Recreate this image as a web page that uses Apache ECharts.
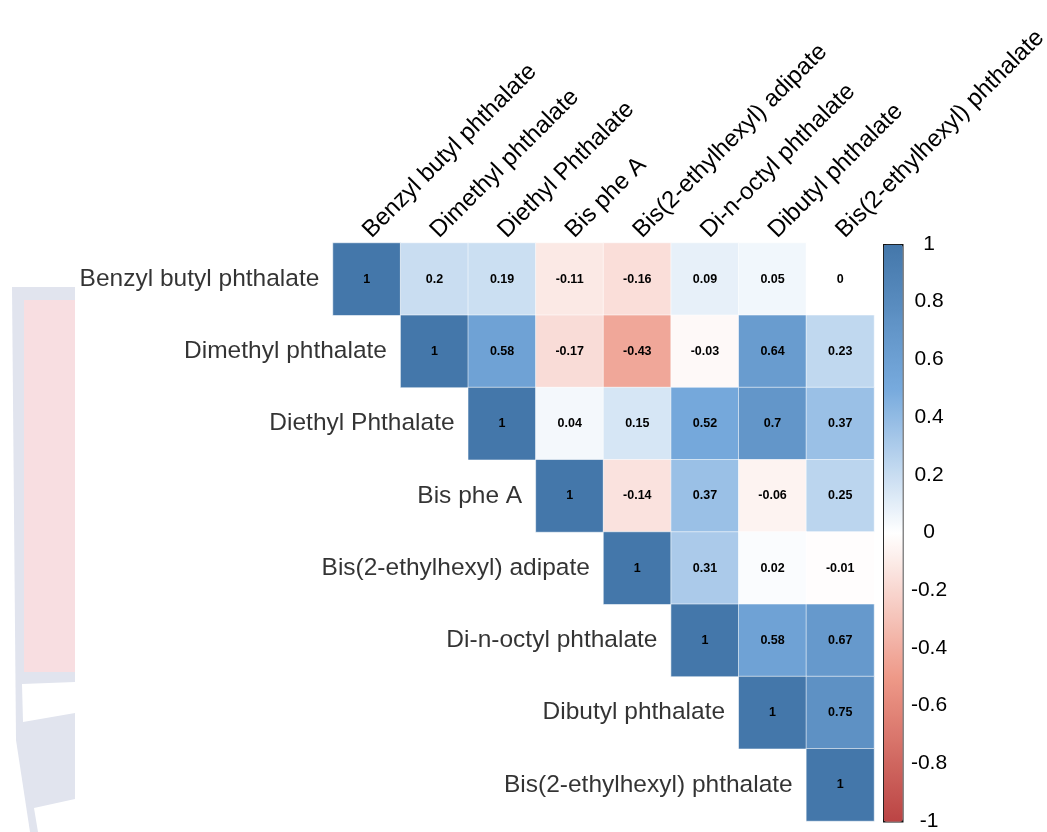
<!DOCTYPE html>
<html>
<head>
<meta charset="utf-8">
<title>Phthalate correlation matrix</title>
<script src="https://cdn.jsdelivr.net/npm/echarts@6/dist/echarts.min.js"></script>
<style>
  html, body { margin: 0; padding: 0; background: #ffffff; }
  #chart { width: 1047px; height: 832px; }
</style>
</head>
<body>
<div id="chart"></div>
<script>
// Compounds, in matrix order (rows top to bottom, columns left to right)
const compounds = [
  'Benzyl butyl phthalate',
  'Dimethyl phthalate',
  'Diethyl Phthalate',
  'Bis phe A',
  'Bis(2-ethylhexyl) adipate',
  'Di-n-octyl phthalate',
  'Dibutyl phthalate',
  'Bis(2-ethylhexyl) phthalate'
];

// Upper triangle of the correlation matrix, one array per row, starting at the diagonal
const rowBenzylButyl   = [1, 0.2, 0.19, -0.11, -0.16, 0.09, 0.05, 0];
const rowDimethyl      = [1, 0.58, -0.17, -0.43, -0.03, 0.64, 0.23];
const rowDiethyl       = [1, 0.04, 0.15, 0.52, 0.7, 0.37];
const rowBisPheA       = [1, -0.14, 0.37, -0.06, 0.25];
const rowAdipate       = [1, 0.31, 0.02, -0.01];
const rowDiNOctyl      = [1, 0.58, 0.67];
const rowDibutyl       = [1, 0.75];
const rowBisEthylhexyl = [1];

const upperRows = [rowBenzylButyl, rowDimethyl, rowDiethyl, rowBisPheA,
                   rowAdipate, rowDiNOctyl, rowDibutyl, rowBisEthylhexyl];

// Colour scale range and tick step of the legend bar
const scaleRange = [-1, 1];
const scaleStep = 0.2;
const scaleColors = ['#BB4444', '#EE9988', '#FFFFFF', '#77AADD', '#4477AA'];

// heatmap cells: [column, row, r]
const cells = [];
upperRows.forEach((vals, r) => {
  vals.forEach((v, k) => cells.push([r + k, r, v]));
});
// diagonal anchors for the row names
const diagonal = compounds.map((name, i) => [i, i, name]);

const chart = echarts.init(document.getElementById('chart'));

const option = {
  backgroundColor: '#ffffff',
  animation: false,
  graphic: [
    { type: 'polygon', z: -10, silent: true,
      shape: { points: [[12, 287], [75, 287], [75, 832], [30, 832], [16, 740]] },
      style: { fill: '#e1e4ee' } },
    { type: 'rect', z: -9, silent: true,
      shape: { x: 24, y: 300, width: 51, height: 372 },
      style: { fill: '#f8dee1' } },
    { type: 'polygon', z: -9, silent: true,
      shape: { points: [[22, 684], [75, 682], [75, 713], [23, 722]] },
      style: { fill: '#ffffff' } },
    { type: 'polygon', z: -9, silent: true,
      shape: { points: [[34, 808], [75, 799], [75, 832], [38, 832]] },
      style: { fill: '#ffffff' } }
  ],
  grid: [
    { left: 333, top: 243, width: 541, height: 578, containLabel: false, outerBoundsMode: 'none' },
    { left: 883, top: 244, width: 19, height: 577, containLabel: false, outerBoundsMode: 'none' }
  ],
  xAxis: [
    {
      type: 'category', gridIndex: 0, data: compounds, position: 'top',
      axisLine: { show: false }, axisTick: { show: false }, splitLine: { show: false },
      axisLabel: {
        interval: 0, rotate: -45, margin: 9, hideOverlap: false,
        fontFamily: 'Liberation Sans, Arial, sans-serif', fontSize: 24, color: '#000'
      }
    },
    { type: 'value', gridIndex: 1, show: false, min: 0, max: 1 }
  ],
  yAxis: [
    {
      type: 'category', gridIndex: 0, data: compounds, inverse: true,
      axisLine: { show: false }, axisTick: { show: false },
      axisLabel: { show: false }, splitLine: { show: false }
    },
    {
      type: 'value', gridIndex: 1, position: 'right',
      min: scaleRange[0], max: scaleRange[1], interval: scaleStep,
      axisLine: { show: false }, splitLine: { show: false },
      axisTick: { show: true, length: 4, lineStyle: { color: '#000', width: 1 } },
      axisLabel: {
        margin: 27, align: 'center', fontSize: 21, color: '#000',
        fontFamily: 'Liberation Sans, Arial, sans-serif',
        formatter: v => String(Math.round(v * 10) / 10)
      }
    }
  ],
  visualMap: {
    type: 'continuous', seriesIndex: 0, dimension: 2,
    min: scaleRange[0], max: scaleRange[1],
    calculable: false, orient: 'vertical',
    left: 883, top: 244, itemWidth: 19, itemHeight: 577,
    padding: 0, text: null, showLabel: false,
    borderColor: '#111', borderWidth: 1.5,
    inRange: { color: scaleColors }
  },
  series: [
    {
      type: 'heatmap', xAxisIndex: 0, yAxisIndex: 0, data: cells,
      itemStyle: { borderColor: 'rgba(255,255,255,0.55)', borderWidth: 1 },
      label: {
        show: true, color: '#000', fontWeight: 'bold', fontSize: 12.5,
        fontFamily: 'Liberation Sans, Arial, sans-serif',
        formatter: p => String(p.value[2])
      },
      emphasis: { disabled: true }
    },
    {
      type: 'scatter', xAxisIndex: 0, yAxisIndex: 0, data: diagonal,
      symbolSize: 1, itemStyle: { color: 'transparent' }, silent: true,
      label: {
        show: true, position: 'left', distance: 47,
        fontFamily: 'Liberation Sans, Arial, sans-serif', fontSize: 24.5, color: '#000',
        formatter: p => p.value[2]
      }
    }
  ]
};

chart.setOption(option);
</script>
</body>
</html>
